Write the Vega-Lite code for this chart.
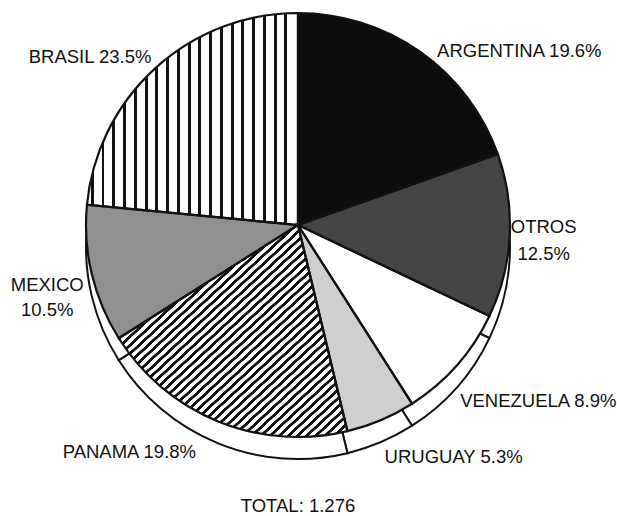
{
  "$schema": "https://vega.github.io/schema/vega-lite/v6.json",
  "width": 596,
  "height": 450,
  "autosize": "none",
  "padding": {"left": 0, "top": 0, "right": 21, "bottom": 66},
  "background": "white",
  "config": {"view": {"stroke": null}},
  "title": {"text": "TOTAL: 1.276", "orient": "bottom", "anchor": "middle", "frame": "group", "offset": 29, "baseline": "top", "font": "Liberation Sans", "fontSize": 18.5, "fontWeight": "normal", "color": "#111"},
  "data": {"values": [
    {"country": "ARGENTINA", "pct": 19.6, "order": 1, "label": "ARGENTINA 19.6%"},
    {"country": "OTROS", "pct": 12.5, "order": 2, "label": "OTROS\n12.5%"},
    {"country": "VENEZUELA", "pct": 8.9, "order": 3, "label": "VENEZUELA 8.9%"},
    {"country": "URUGUAY", "pct": 5.3, "order": 4, "label": "URUGUAY 5.3%"},
    {"country": "PANAMA", "pct": 19.8, "order": 5, "label": "PANAMA 19.8%"},
    {"country": "MEXICO", "pct": 10.5, "order": 6, "label": "MEXICO\n10.5%"},
    {"country": "BRASIL", "pct": 23.5, "order": 7, "label": "BRASIL 23.5%"}
  ]},
  "encoding": {
    "theta": {"field": "pct", "type": "quantitative", "stack": true},
    "order": {"field": "order", "type": "quantitative"}
  },
  "layer": [
    {"mark": {"type": "arc", "outerRadius": 212, "yOffset": 22, "fill": "white", "stroke": "#111", "strokeWidth": 2}},
    {"mark": {"type": "arc", "outerRadius": 212, "strokeWidth": 0},
     "encoding": {"fill": {"field": "country", "type": "nominal", "legend": null,
       "scale": {"domain": ["ARGENTINA", "OTROS", "VENEZUELA", "URUGUAY", "PANAMA", "MEXICO", "BRASIL"],
                 "range": ["#0d0d0d", "#454545", "#ffffff", "#cfcfcf", "#ffffff", "#909090", "#ffffff"]}}}},
    {"mark": {"type": "arc", "outerRadius": 212, "strokeWidth": 0,
      "fill": {"gradient": "linear", "x1": 0, "y1": 0, "x2": 1, "y2": 0, "stops": [
        {"offset": 0.019, "color": "#fff"}, {"offset": 0.019, "color": "#111"}, {"offset": 0.033, "color": "#111"}, {"offset": 0.033, "color": "#fff"},
        {"offset": 0.069, "color": "#fff"}, {"offset": 0.069, "color": "#111"}, {"offset": 0.083, "color": "#111"}, {"offset": 0.083, "color": "#fff"},
        {"offset": 0.120, "color": "#fff"}, {"offset": 0.120, "color": "#111"}, {"offset": 0.134, "color": "#111"}, {"offset": 0.134, "color": "#fff"},
        {"offset": 0.171, "color": "#fff"}, {"offset": 0.171, "color": "#111"}, {"offset": 0.185, "color": "#111"}, {"offset": 0.185, "color": "#fff"},
        {"offset": 0.222, "color": "#fff"}, {"offset": 0.222, "color": "#111"}, {"offset": 0.236, "color": "#111"}, {"offset": 0.236, "color": "#fff"},
        {"offset": 0.273, "color": "#fff"}, {"offset": 0.273, "color": "#111"}, {"offset": 0.287, "color": "#111"}, {"offset": 0.287, "color": "#fff"},
        {"offset": 0.324, "color": "#fff"}, {"offset": 0.324, "color": "#111"}, {"offset": 0.338, "color": "#111"}, {"offset": 0.338, "color": "#fff"},
        {"offset": 0.375, "color": "#fff"}, {"offset": 0.375, "color": "#111"}, {"offset": 0.389, "color": "#111"}, {"offset": 0.389, "color": "#fff"},
        {"offset": 0.426, "color": "#fff"}, {"offset": 0.426, "color": "#111"}, {"offset": 0.440, "color": "#111"}, {"offset": 0.440, "color": "#fff"},
        {"offset": 0.477, "color": "#fff"}, {"offset": 0.477, "color": "#111"}, {"offset": 0.491, "color": "#111"}, {"offset": 0.491, "color": "#fff"},
        {"offset": 0.528, "color": "#fff"}, {"offset": 0.528, "color": "#111"}, {"offset": 0.542, "color": "#111"}, {"offset": 0.542, "color": "#fff"},
        {"offset": 0.579, "color": "#fff"}, {"offset": 0.579, "color": "#111"}, {"offset": 0.593, "color": "#111"}, {"offset": 0.593, "color": "#fff"},
        {"offset": 0.630, "color": "#fff"}, {"offset": 0.630, "color": "#111"}, {"offset": 0.644, "color": "#111"}, {"offset": 0.644, "color": "#fff"},
        {"offset": 0.681, "color": "#fff"}, {"offset": 0.681, "color": "#111"}, {"offset": 0.695, "color": "#111"}, {"offset": 0.695, "color": "#fff"},
        {"offset": 0.732, "color": "#fff"}, {"offset": 0.732, "color": "#111"}, {"offset": 0.746, "color": "#111"}, {"offset": 0.746, "color": "#fff"},
        {"offset": 0.783, "color": "#fff"}, {"offset": 0.783, "color": "#111"}, {"offset": 0.797, "color": "#111"}, {"offset": 0.797, "color": "#fff"},
        {"offset": 0.834, "color": "#fff"}, {"offset": 0.834, "color": "#111"}, {"offset": 0.848, "color": "#111"}, {"offset": 0.848, "color": "#fff"},
        {"offset": 0.885, "color": "#fff"}, {"offset": 0.885, "color": "#111"}, {"offset": 0.899, "color": "#111"}, {"offset": 0.899, "color": "#fff"},
        {"offset": 0.936, "color": "#fff"}, {"offset": 0.936, "color": "#111"}, {"offset": 0.950, "color": "#111"}, {"offset": 0.950, "color": "#fff"}
      ]}},
     "encoding": {"fillOpacity": {"condition": {"test": "datum.country === 'BRASIL'", "value": 1}, "value": 0}}},
    {"mark": {"type": "arc", "outerRadius": 212, "strokeWidth": 0,
      "fill": {"gradient": "linear", "x1": 0, "y1": 0, "x2": 1, "y2": 1, "stops": [
        {"offset": 0.003, "color": "#fff"}, {"offset": 0.004, "color": "#111"}, {"offset": 0.012, "color": "#111"}, {"offset": 0.013, "color": "#fff"},
        {"offset": 0.023, "color": "#fff"}, {"offset": 0.024, "color": "#111"}, {"offset": 0.032, "color": "#111"}, {"offset": 0.033, "color": "#fff"},
        {"offset": 0.043, "color": "#fff"}, {"offset": 0.044, "color": "#111"}, {"offset": 0.052, "color": "#111"}, {"offset": 0.053, "color": "#fff"},
        {"offset": 0.063, "color": "#fff"}, {"offset": 0.064, "color": "#111"}, {"offset": 0.072, "color": "#111"}, {"offset": 0.073, "color": "#fff"},
        {"offset": 0.083, "color": "#fff"}, {"offset": 0.084, "color": "#111"}, {"offset": 0.092, "color": "#111"}, {"offset": 0.093, "color": "#fff"},
        {"offset": 0.103, "color": "#fff"}, {"offset": 0.104, "color": "#111"}, {"offset": 0.112, "color": "#111"}, {"offset": 0.113, "color": "#fff"},
        {"offset": 0.123, "color": "#fff"}, {"offset": 0.124, "color": "#111"}, {"offset": 0.132, "color": "#111"}, {"offset": 0.133, "color": "#fff"},
        {"offset": 0.143, "color": "#fff"}, {"offset": 0.144, "color": "#111"}, {"offset": 0.152, "color": "#111"}, {"offset": 0.153, "color": "#fff"},
        {"offset": 0.163, "color": "#fff"}, {"offset": 0.164, "color": "#111"}, {"offset": 0.172, "color": "#111"}, {"offset": 0.173, "color": "#fff"},
        {"offset": 0.183, "color": "#fff"}, {"offset": 0.184, "color": "#111"}, {"offset": 0.192, "color": "#111"}, {"offset": 0.193, "color": "#fff"},
        {"offset": 0.203, "color": "#fff"}, {"offset": 0.204, "color": "#111"}, {"offset": 0.212, "color": "#111"}, {"offset": 0.213, "color": "#fff"},
        {"offset": 0.223, "color": "#fff"}, {"offset": 0.224, "color": "#111"}, {"offset": 0.232, "color": "#111"}, {"offset": 0.233, "color": "#fff"},
        {"offset": 0.243, "color": "#fff"}, {"offset": 0.244, "color": "#111"}, {"offset": 0.252, "color": "#111"}, {"offset": 0.253, "color": "#fff"},
        {"offset": 0.263, "color": "#fff"}, {"offset": 0.264, "color": "#111"}, {"offset": 0.272, "color": "#111"}, {"offset": 0.273, "color": "#fff"},
        {"offset": 0.283, "color": "#fff"}, {"offset": 0.284, "color": "#111"}, {"offset": 0.292, "color": "#111"}, {"offset": 0.293, "color": "#fff"},
        {"offset": 0.303, "color": "#fff"}, {"offset": 0.304, "color": "#111"}, {"offset": 0.312, "color": "#111"}, {"offset": 0.313, "color": "#fff"},
        {"offset": 0.323, "color": "#fff"}, {"offset": 0.324, "color": "#111"}, {"offset": 0.332, "color": "#111"}, {"offset": 0.333, "color": "#fff"},
        {"offset": 0.343, "color": "#fff"}, {"offset": 0.344, "color": "#111"}, {"offset": 0.352, "color": "#111"}, {"offset": 0.353, "color": "#fff"},
        {"offset": 0.363, "color": "#fff"}, {"offset": 0.364, "color": "#111"}, {"offset": 0.372, "color": "#111"}, {"offset": 0.373, "color": "#fff"},
        {"offset": 0.383, "color": "#fff"}, {"offset": 0.384, "color": "#111"}, {"offset": 0.392, "color": "#111"}, {"offset": 0.393, "color": "#fff"},
        {"offset": 0.403, "color": "#fff"}, {"offset": 0.404, "color": "#111"}, {"offset": 0.412, "color": "#111"}, {"offset": 0.413, "color": "#fff"},
        {"offset": 0.423, "color": "#fff"}, {"offset": 0.424, "color": "#111"}, {"offset": 0.432, "color": "#111"}, {"offset": 0.433, "color": "#fff"},
        {"offset": 0.443, "color": "#fff"}, {"offset": 0.444, "color": "#111"}, {"offset": 0.452, "color": "#111"}, {"offset": 0.453, "color": "#fff"},
        {"offset": 0.463, "color": "#fff"}, {"offset": 0.464, "color": "#111"}, {"offset": 0.472, "color": "#111"}, {"offset": 0.473, "color": "#fff"},
        {"offset": 0.483, "color": "#fff"}, {"offset": 0.484, "color": "#111"}, {"offset": 0.492, "color": "#111"}, {"offset": 0.493, "color": "#fff"},
        {"offset": 0.503, "color": "#fff"}, {"offset": 0.504, "color": "#111"}, {"offset": 0.512, "color": "#111"}, {"offset": 0.513, "color": "#fff"},
        {"offset": 0.523, "color": "#fff"}, {"offset": 0.524, "color": "#111"}, {"offset": 0.532, "color": "#111"}, {"offset": 0.533, "color": "#fff"},
        {"offset": 0.543, "color": "#fff"}, {"offset": 0.544, "color": "#111"}, {"offset": 0.552, "color": "#111"}, {"offset": 0.553, "color": "#fff"},
        {"offset": 0.563, "color": "#fff"}, {"offset": 0.564, "color": "#111"}, {"offset": 0.572, "color": "#111"}, {"offset": 0.573, "color": "#fff"},
        {"offset": 0.583, "color": "#fff"}, {"offset": 0.584, "color": "#111"}, {"offset": 0.592, "color": "#111"}, {"offset": 0.593, "color": "#fff"},
        {"offset": 0.603, "color": "#fff"}, {"offset": 0.604, "color": "#111"}, {"offset": 0.612, "color": "#111"}, {"offset": 0.613, "color": "#fff"},
        {"offset": 0.623, "color": "#fff"}, {"offset": 0.624, "color": "#111"}, {"offset": 0.632, "color": "#111"}, {"offset": 0.633, "color": "#fff"},
        {"offset": 0.643, "color": "#fff"}, {"offset": 0.644, "color": "#111"}, {"offset": 0.652, "color": "#111"}, {"offset": 0.653, "color": "#fff"},
        {"offset": 0.663, "color": "#fff"}, {"offset": 0.664, "color": "#111"}, {"offset": 0.672, "color": "#111"}, {"offset": 0.673, "color": "#fff"},
        {"offset": 0.683, "color": "#fff"}, {"offset": 0.684, "color": "#111"}, {"offset": 0.692, "color": "#111"}, {"offset": 0.693, "color": "#fff"},
        {"offset": 0.703, "color": "#fff"}, {"offset": 0.704, "color": "#111"}, {"offset": 0.712, "color": "#111"}, {"offset": 0.713, "color": "#fff"},
        {"offset": 0.723, "color": "#fff"}, {"offset": 0.724, "color": "#111"}, {"offset": 0.732, "color": "#111"}, {"offset": 0.733, "color": "#fff"},
        {"offset": 0.743, "color": "#fff"}, {"offset": 0.744, "color": "#111"}, {"offset": 0.752, "color": "#111"}, {"offset": 0.753, "color": "#fff"},
        {"offset": 0.763, "color": "#fff"}, {"offset": 0.764, "color": "#111"}, {"offset": 0.772, "color": "#111"}, {"offset": 0.773, "color": "#fff"},
        {"offset": 0.783, "color": "#fff"}, {"offset": 0.784, "color": "#111"}, {"offset": 0.792, "color": "#111"}, {"offset": 0.793, "color": "#fff"},
        {"offset": 0.803, "color": "#fff"}, {"offset": 0.804, "color": "#111"}, {"offset": 0.812, "color": "#111"}, {"offset": 0.813, "color": "#fff"},
        {"offset": 0.823, "color": "#fff"}, {"offset": 0.824, "color": "#111"}, {"offset": 0.832, "color": "#111"}, {"offset": 0.833, "color": "#fff"},
        {"offset": 0.843, "color": "#fff"}, {"offset": 0.844, "color": "#111"}, {"offset": 0.852, "color": "#111"}, {"offset": 0.853, "color": "#fff"},
        {"offset": 0.863, "color": "#fff"}, {"offset": 0.864, "color": "#111"}, {"offset": 0.872, "color": "#111"}, {"offset": 0.873, "color": "#fff"},
        {"offset": 0.883, "color": "#fff"}, {"offset": 0.884, "color": "#111"}, {"offset": 0.892, "color": "#111"}, {"offset": 0.893, "color": "#fff"},
        {"offset": 0.903, "color": "#fff"}, {"offset": 0.904, "color": "#111"}, {"offset": 0.912, "color": "#111"}, {"offset": 0.913, "color": "#fff"},
        {"offset": 0.923, "color": "#fff"}, {"offset": 0.924, "color": "#111"}, {"offset": 0.932, "color": "#111"}, {"offset": 0.933, "color": "#fff"},
        {"offset": 0.943, "color": "#fff"}, {"offset": 0.944, "color": "#111"}, {"offset": 0.952, "color": "#111"}, {"offset": 0.953, "color": "#fff"},
        {"offset": 0.963, "color": "#fff"}, {"offset": 0.964, "color": "#111"}, {"offset": 0.972, "color": "#111"}, {"offset": 0.973, "color": "#fff"},
        {"offset": 0.983, "color": "#fff"}, {"offset": 0.984, "color": "#111"}, {"offset": 0.992, "color": "#111"}, {"offset": 0.993, "color": "#fff"}
      ]}},
     "encoding": {"fillOpacity": {"condition": {"test": "datum.country === 'PANAMA'", "value": 1}, "value": 0}}},
    {"mark": {"type": "arc", "outerRadius": 212, "fill": "white", "fillOpacity": 0, "stroke": "#111", "strokeWidth": 2.2}},
    {"mark": {"type": "text", "radius": 215, "align": "left", "baseline": "alphabetic", "dx": 15, "dy": 7.5, "font": "Liberation Sans", "fontSize": 18.5, "color": "#111", "lineBreak": "\n", "lineHeight": 27},
     "encoding": {"text": {"condition": {"test": "datum.country === 'ARGENTINA'", "field": "label"}, "value": ""}}},
    {"mark": {"type": "text", "radius": 215, "align": "center", "baseline": "alphabetic", "dx": 31, "dy": -3.5, "font": "Liberation Sans", "fontSize": 18.5, "color": "#111", "lineBreak": "\n", "lineHeight": 27},
     "encoding": {"text": {"condition": {"test": "datum.country === 'OTROS'", "field": "label"}, "value": ""}}},
    {"mark": {"type": "text", "radius": 215, "align": "left", "baseline": "alphabetic", "dx": 1, "dy": 40, "font": "Liberation Sans", "fontSize": 18.5, "color": "#111", "lineBreak": "\n", "lineHeight": 27},
     "encoding": {"text": {"condition": {"test": "datum.country === 'VENEZUELA'", "field": "label"}, "value": ""}}},
    {"mark": {"type": "text", "radius": 215, "align": "left", "baseline": "alphabetic", "dx": 2.5, "dy": 40, "font": "Liberation Sans", "fontSize": 18.5, "color": "#111", "lineBreak": "\n", "lineHeight": 27},
     "encoding": {"text": {"condition": {"test": "datum.country === 'URUGUAY'", "field": "label"}, "value": ""}}},
    {"mark": {"type": "text", "radius": 215, "align": "right", "baseline": "alphabetic", "dx": -21, "dy": 34, "font": "Liberation Sans", "fontSize": 18.5, "color": "#111", "lineBreak": "\n", "lineHeight": 27},
     "encoding": {"text": {"condition": {"test": "datum.country === 'PANAMA'", "field": "label"}, "value": ""}}},
    {"mark": {"type": "text", "radius": 215, "align": "center", "baseline": "alphabetic", "dx": -41.6, "dy": 16, "font": "Liberation Sans", "fontSize": 18.5, "color": "#111", "lineBreak": "\n", "lineHeight": 25},
     "encoding": {"text": {"condition": {"test": "datum.country === 'MEXICO'", "field": "label"}, "value": ""}}},
    {"mark": {"type": "text", "radius": 215, "align": "right", "baseline": "alphabetic", "dx": -2, "dy": -3, "font": "Liberation Sans", "fontSize": 18.5, "color": "#111", "lineBreak": "\n", "lineHeight": 27},
     "encoding": {"text": {"condition": {"test": "datum.country === 'BRASIL'", "field": "label"}, "value": ""}}}
  ]
}
